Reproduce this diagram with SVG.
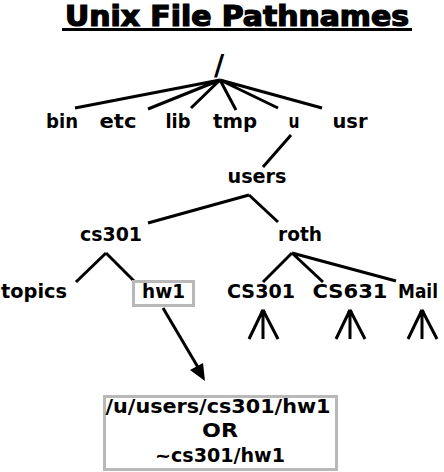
<svg xmlns="http://www.w3.org/2000/svg" width="444" height="472" viewBox="0 0 444 472">
<style>
.t{font-family:"DejaVu Sans","Liberation Sans",sans-serif;font-size:20px;font-weight:bold;fill:#000;text-anchor:middle}
.e{stroke:#000;stroke-width:3;fill:none;stroke-linecap:butt}
.box{fill:#fff;stroke:#b8b8b8;stroke-width:3}
</style>
<defs>
<g id="fan"><path d="M0,0 L-14,29 M0,0 L0,29 M0,0 L15,29" class="e"/><circle cx="0" cy="2" r="2.5" fill="#000"/></g>
</defs>
<rect width="444" height="472" fill="#fff"/>
<g id="title">
<text x="237" y="25.5" textLength="344" lengthAdjust="spacingAndGlyphs" style="font-family:'DejaVu Sans Condensed','DejaVu Sans',sans-serif;font-weight:bold;font-size:28px;text-anchor:middle;stroke:#000;stroke-width:1.2">Unix File Pathnames</text>
<line x1="62" y1="29.5" x2="412" y2="29.5" stroke="#000" stroke-width="3"/>
</g>
<g id="connectors">
<path class="e" d="M220,80 L75,108 M220,80 L148,109 M220,80 L191,108 M220,80 L236,110 M220,80 L278,108 M220,80 L322,108"/>
<path class="e" d="M291,135 L263,167"/>
<path class="e" d="M249,195 L148,223 M249,195 L278,222"/>
<path class="e" d="M106,253 L76,282 M106,253 L135,282"/>
<path class="e" d="M292,253 L263,282 M292,253 L323,282 M292,253 L396,281"/>
<line class="e" x1="163" y1="308" x2="199" y2="369"/>
<polygon points="205,381 190,370 203,363" fill="#000"/>
</g>
<g id="root"><text class="t" x="219" y="75" style="font-size:28px">/</text></g>
<g id="bin"><text class="t" x="62" y="128" textLength="32" lengthAdjust="spacingAndGlyphs">bin</text></g>
<g id="etc"><text class="t" x="118" y="128" textLength="37" lengthAdjust="spacingAndGlyphs">etc</text></g>
<g id="lib"><text class="t" x="178" y="128" textLength="25" lengthAdjust="spacingAndGlyphs">lib</text></g>
<g id="tmp"><text class="t" x="235" y="128" textLength="44" lengthAdjust="spacingAndGlyphs">tmp</text></g>
<g id="u"><text class="t" x="294" y="128" textLength="11" lengthAdjust="spacingAndGlyphs">u</text></g>
<g id="usr"><text class="t" x="350" y="128" textLength="35" lengthAdjust="spacingAndGlyphs">usr</text></g>
<g id="users"><text class="t" x="257" y="183" textLength="59" lengthAdjust="spacingAndGlyphs">users</text></g>
<g id="cs301"><text class="t" x="111" y="241" textLength="62" lengthAdjust="spacingAndGlyphs">cs301</text></g>
<g id="roth"><text class="t" x="300" y="241" textLength="44" lengthAdjust="spacingAndGlyphs">roth</text></g>
<g id="topics"><text class="t" x="34" y="298" textLength="66" lengthAdjust="spacingAndGlyphs">topics</text></g>
<g id="hw1"><rect class="box" x="133.5" y="281.5" width="60" height="24"/><text class="t" x="163.5" y="298" textLength="43" lengthAdjust="spacingAndGlyphs">hw1</text></g>
<g id="CS301"><text class="t" x="261" y="298" textLength="68" lengthAdjust="spacingAndGlyphs">CS301</text><use href="#fan" x="263" y="310"/></g>
<g id="CS631"><text class="t" x="350" y="298" textLength="75" lengthAdjust="spacingAndGlyphs">CS631</text><use href="#fan" x="350" y="310"/></g>
<g id="Mail"><text class="t" x="418" y="298" textLength="40" lengthAdjust="spacingAndGlyphs">Mail</text><use href="#fan" x="422" y="310"/></g>
<g id="path">
<rect class="box" x="104.5" y="396.5" width="232" height="73"/>
<text class="t" x="218" y="413" textLength="225" lengthAdjust="spacingAndGlyphs">/u/users/cs301/hw1</text>
<text class="t" x="220" y="437" textLength="36" lengthAdjust="spacingAndGlyphs">OR</text>
<text class="t" x="220" y="462" textLength="130" lengthAdjust="spacingAndGlyphs">~cs301/hw1</text>
</g>
</svg>
